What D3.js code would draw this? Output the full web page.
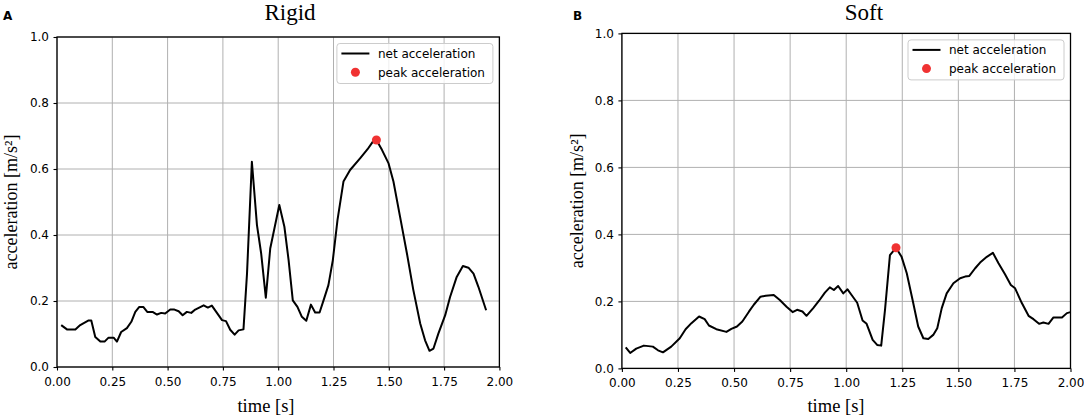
<!DOCTYPE html>
<html>
<head>
<meta charset="utf-8">
<script src="https://cdn.jsdelivr.net/npm/d3@7"></script>
<style>
  body { margin: 0; background: #fff; }
  svg { display: block; }
  .tick text { font-family: "DejaVu Sans", sans-serif; font-size: 12px; fill: #000; }
</style>
</head>
<body>
<div id="chart"></div>
<script>
// data
var xTicks = [0, 0.25, 0.5, 0.75, 1.0, 1.25, 1.5, 1.75, 2.0];
var yTicks = [0, 0.2, 0.4, 0.6, 0.8, 1.0];
var legendLabels = ["net acceleration", "peak acceleration"];

var rigidTime = [0.019,0.045,0.083,0.105,0.143,0.155,0.173,0.196,0.215,0.233,0.256,0.271,0.29,0.316,0.336,0.354,0.372,0.39,0.408,0.432,0.452,0.471,0.489,0.512,0.531,0.55,0.568,0.587,0.607,0.625,0.663,0.682,0.7,0.723,0.746,0.764,0.783,0.803,0.821,0.843,0.859,0.881,0.904,0.923,0.944,0.964,1.005,1.028,1.047,1.066,1.087,1.107,1.127,1.148,1.167,1.187,1.205,1.227,1.247,1.268,1.295,1.325,1.371,1.404,1.428,1.444,1.469,1.499,1.521,1.551,1.582,1.611,1.642,1.664,1.684,1.702,1.724,1.755,1.777,1.807,1.835,1.86,1.883,1.905,1.94];
var rigidAcc = [0.127,0.114,0.114,0.127,0.141,0.141,0.091,0.077,0.077,0.089,0.089,0.077,0.106,0.118,0.137,0.167,0.182,0.182,0.167,0.167,0.159,0.164,0.162,0.174,0.174,0.169,0.157,0.167,0.164,0.174,0.187,0.180,0.186,0.164,0.142,0.139,0.113,0.098,0.111,0.114,0.283,0.622,0.43,0.344,0.21,0.359,0.491,0.425,0.324,0.202,0.182,0.152,0.14,0.189,0.165,0.165,0.202,0.248,0.324,0.445,0.562,0.597,0.633,0.66,0.683,0.688,0.658,0.617,0.562,0.455,0.344,0.233,0.132,0.081,0.049,0.056,0.101,0.157,0.212,0.273,0.306,0.301,0.283,0.243,0.172];
var rigidPeak = [1.444, 0.688];

var softTime = [0.017,0.037,0.064,0.098,0.138,0.161,0.183,0.22,0.258,0.284,0.31,0.344,0.369,0.388,0.421,0.466,0.488,0.513,0.537,0.567,0.588,0.618,0.641,0.677,0.704,0.734,0.761,0.781,0.805,0.823,0.853,0.879,0.905,0.927,0.945,0.964,0.987,1.006,1.024,1.049,1.073,1.091,1.118,1.138,1.156,1.173,1.195,1.222,1.247,1.27,1.296,1.321,1.344,1.366,1.388,1.406,1.426,1.448,1.478,1.508,1.53,1.549,1.575,1.597,1.627,1.654,1.679,1.708,1.734,1.753,1.783,1.813,1.835,1.86,1.879,1.902,1.924,1.962,1.984,2.0];
var softAcc = [0.063,0.046,0.059,0.068,0.065,0.054,0.048,0.065,0.09,0.117,0.135,0.155,0.147,0.128,0.117,0.109,0.118,0.125,0.14,0.17,0.19,0.214,0.217,0.219,0.204,0.184,0.168,0.175,0.17,0.157,0.18,0.202,0.226,0.242,0.234,0.246,0.224,0.236,0.219,0.196,0.143,0.133,0.085,0.07,0.068,0.175,0.338,0.36,0.333,0.284,0.204,0.125,0.09,0.088,0.1,0.12,0.18,0.224,0.254,0.269,0.274,0.276,0.299,0.316,0.333,0.345,0.314,0.281,0.249,0.239,0.195,0.157,0.147,0.133,0.137,0.133,0.152,0.152,0.165,0.168];
var softPeak = [1.222, 0.36];

var width = 1084, height = 417;
var serif = "'Liberation Serif', 'Times New Roman', serif";
var sans = "'DejaVu Sans', sans-serif";

var svg = d3.select("#chart")
  .append("svg")
  .attr("width", width)
  .attr("height", height);

drawPanel({
  letter: "A", letterX: 3, title: "Rigid", titleX: 290, xLabelX: 266, yLabelX: 16.5,
  left: 57, right: 499.4, top: 37, bottom: 367,
  time: rigidTime, acc: rigidAcc, peak: rigidPeak
});

drawPanel({
  letter: "B", letterX: 573, title: "Soft", titleX: 864, xLabelX: 836, yLabelX: 583,
  left: 621.9, right: 1070.5, top: 33.4, bottom: 368.4,
  time: softTime, acc: softAcc, peak: softPeak
});

function drawPanel(p) {
  var x = d3.scaleLinear().domain([0, 2]).range([p.left, p.right]);
  var y = d3.scaleLinear().domain([0, 1]).range([p.bottom, p.top]);

  var g = svg.append("g");

  // grid
  g.append("g")
    .selectAll("line")
    .data(xTicks)
    .join("line")
    .attr("x1", d => x(d)).attr("x2", d => x(d))
    .attr("y1", p.top).attr("y2", p.bottom)
    .attr("stroke", "#b0b0b0").attr("stroke-width", 1);
  g.append("g")
    .selectAll("line")
    .data(yTicks)
    .join("line")
    .attr("x1", p.left).attr("x2", p.right)
    .attr("y1", d => y(d)).attr("y2", d => y(d))
    .attr("stroke", "#b0b0b0").attr("stroke-width", 1);

  // curve
  var pts = p.time.map((t, i) => [t, p.acc[i]]);
  var line = d3.line().x(d => x(d[0])).y(d => y(d[1]));
  g.append("path")
    .datum(pts)
    .attr("d", line)
    .attr("fill", "none")
    .attr("stroke", "#000")
    .attr("stroke-width", 2)
    .attr("stroke-linejoin", "round");

  g.append("circle")
    .attr("cx", x(p.peak[0]))
    .attr("cy", y(p.peak[1]))
    .attr("r", 4.5)
    .attr("fill", "#f03232");

  // frame
  g.append("rect")
    .attr("x", p.left).attr("y", p.top)
    .attr("width", p.right - p.left).attr("height", p.bottom - p.top)
    .attr("fill", "none").attr("stroke", "#000").attr("stroke-width", 1.3);

  // axes
  g.append("g")
    .attr("transform", "translate(0," + p.bottom + ")")
    .call(d3.axisBottom(x).tickValues(xTicks).tickFormat(d3.format(".2f")).tickSize(3.5).tickPadding(6.5))
    .call(a => a.select(".domain").remove())
    .call(a => a.selectAll(".tick line").attr("stroke", "#000").attr("stroke-width", 1.1));

  g.append("g")
    .attr("transform", "translate(" + p.left + ",0)")
    .call(d3.axisLeft(y).tickValues(yTicks).tickFormat(d3.format(".1f")).tickSize(3.5).tickPadding(4.5))
    .call(a => a.select(".domain").remove())
    .call(a => a.selectAll(".tick line").attr("stroke", "#000").attr("stroke-width", 1.1));

  // labels
  svg.append("text")
    .attr("x", p.letterX).attr("y", 20)
    .style("font-family", sans).style("font-weight", "bold").style("font-size", "12px")
    .text(p.letter);

  svg.append("text")
    .attr("x", p.titleX).attr("y", 20)
    .attr("text-anchor", "middle")
    .style("font-family", serif).style("font-size", "23px")
    .text(p.title);

  svg.append("text")
    .attr("x", p.xLabelX).attr("y", 411.5)
    .attr("text-anchor", "middle")
    .style("font-family", serif).style("font-size", "18.5px")
    .text("time [s]");

  svg.append("text")
    .attr("transform", "translate(" + p.yLabelX + "," + (p.top + p.bottom) / 2 + ")rotate(-90)")
    .attr("text-anchor", "middle")
    .style("font-family", serif).style("font-size", "18px")
    .text("acceleration [m/s²]");

  // legend
  var bw = 156, bh = 40;
  var bx = p.right - 6.5 - bw, by = p.top + 6.5;
  var lg = svg.append("g").attr("transform", "translate(" + bx + "," + by + ")");
  lg.append("rect")
    .attr("width", bw).attr("height", bh)
    .attr("rx", 3)
    .attr("fill", "#fff").attr("fill-opacity", 0.8)
    .attr("stroke", "#cccccc").attr("stroke-width", 1);
  lg.append("line")
    .attr("x1", 4.5).attr("x2", 32.5).attr("y1", 10).attr("y2", 10)
    .attr("stroke", "#000").attr("stroke-width", 2);
  lg.append("circle")
    .attr("cx", 18.5).attr("cy", 28.7).attr("r", 4.5)
    .attr("fill", "#f03232");
  lg.selectAll("text")
    .data(legendLabels)
    .join("text")
    .attr("x", 41)
    .attr("y", (d, i) => 10 + i * 18.7)
    .attr("dy", "0.36em")
    .style("font-family", sans).style("font-size", "12px")
    .text(d => d);
}
</script>
</body>
</html>
